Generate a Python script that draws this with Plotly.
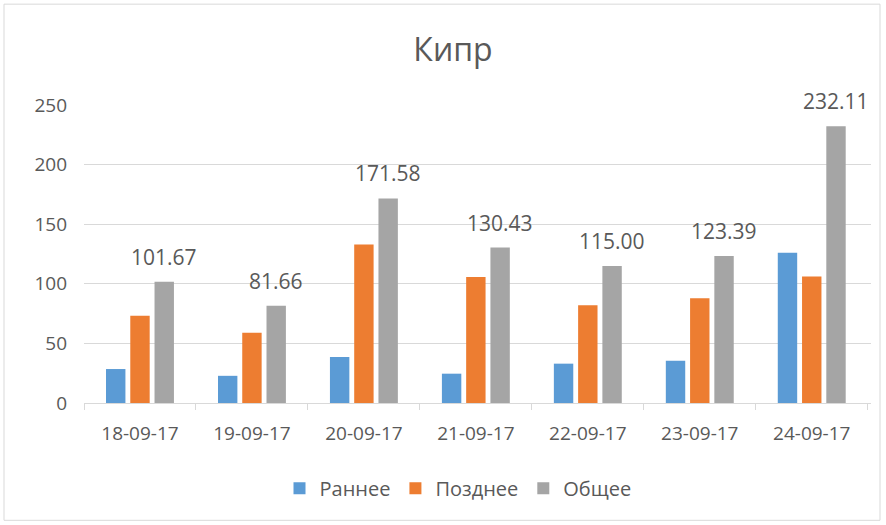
import plotly.graph_objects as go

categories = ["18-09-17", "19-09-17", "20-09-17", "21-09-17", "22-09-17", "23-09-17", "24-09-17"]
early = [28.5, 22.8, 38.6, 24.6, 33.0, 35.5, 126.0]
late = [73.2, 58.9, 133.0, 105.8, 82.0, 87.9, 106.1]
total = [101.67, 81.66, 171.58, 130.43, 115.00, 123.39, 232.11]
series_names = ["Раннее", "Позднее", "Общее"]
colors = ["#5B9BD5", "#ED7D31", "#A5A5A5"]

FONT = "Open Sans"
TXT = "#595959"
BARGAP = 0.35

fig = go.Figure()
for name, vals, c in zip(series_names, [early, late, total], colors):
    fig.add_trace(go.Bar(x=categories, y=vals, name=name, marker_color=c,
                         marker_line_width=0))

slot = (1 - BARGAP) / 3
for i, v in enumerate(total):
    fig.add_annotation(x=i + slot, y=v, xref="x", yref="y", text=f"{v:.2f}",
                       showarrow=False, yanchor="bottom", yshift=9,
                       font=dict(family=FONT, size=21, color=TXT))

L, R, T, B = 84, 15, 105, 121.5
pw = 886 - L - R
ph = 525 - T - B
fig.add_shape(type="rect", xref="paper", yref="paper",
              x0=(4 - L) / pw, x1=(880 - L) / pw,
              y0=(525 - B - 521) / ph, y1=(525 - B - 4) / ph,
              line=dict(color="#D9D9D9", width=1), layer="below")

fig.update_layout(
    width=886, height=525,
    margin=dict(l=L, r=R, t=T, b=B),
    paper_bgcolor="white", plot_bgcolor="white",
    barmode="group", bargap=BARGAP, bargroupgap=0.2,
    title=dict(text="Кипр", x=453 / 886, xanchor="center", y=1 - 50 / 525, yanchor="middle",
               font=dict(family=FONT, size=32, color=TXT)),
    font=dict(family=FONT, size=17, color=TXT),
    legend=dict(orientation="h", x=(458 - L) / pw, xanchor="center", y=(525 - B - 489) / ph,
                yanchor="middle",
                font=dict(family=FONT, size=20, color=TXT), itemwidth=30,
                traceorder="normal"),
    showlegend=True,
)
fig.update_yaxes(range=[0, 250], dtick=50, gridcolor="#D9D9D9", gridwidth=1,
                 zeroline=False, showline=False, ticks="", ticklabelstandoff=16,
                 tickfont=dict(family=FONT, size=19, color=TXT))
fig.update_xaxes(type="category", showline=True, linecolor="#D9D9D9", linewidth=1,
                 ticks="outside", tickson="boundaries", ticklen=6, tickcolor="#D9D9D9",
                 ticklabelstandoff=13,
                 tickfont=dict(family=FONT, size=19, color=TXT))

fig.write_html("out.html", post_script="document.body.style.margin='0';",
               config={"displayModeBar": False})
